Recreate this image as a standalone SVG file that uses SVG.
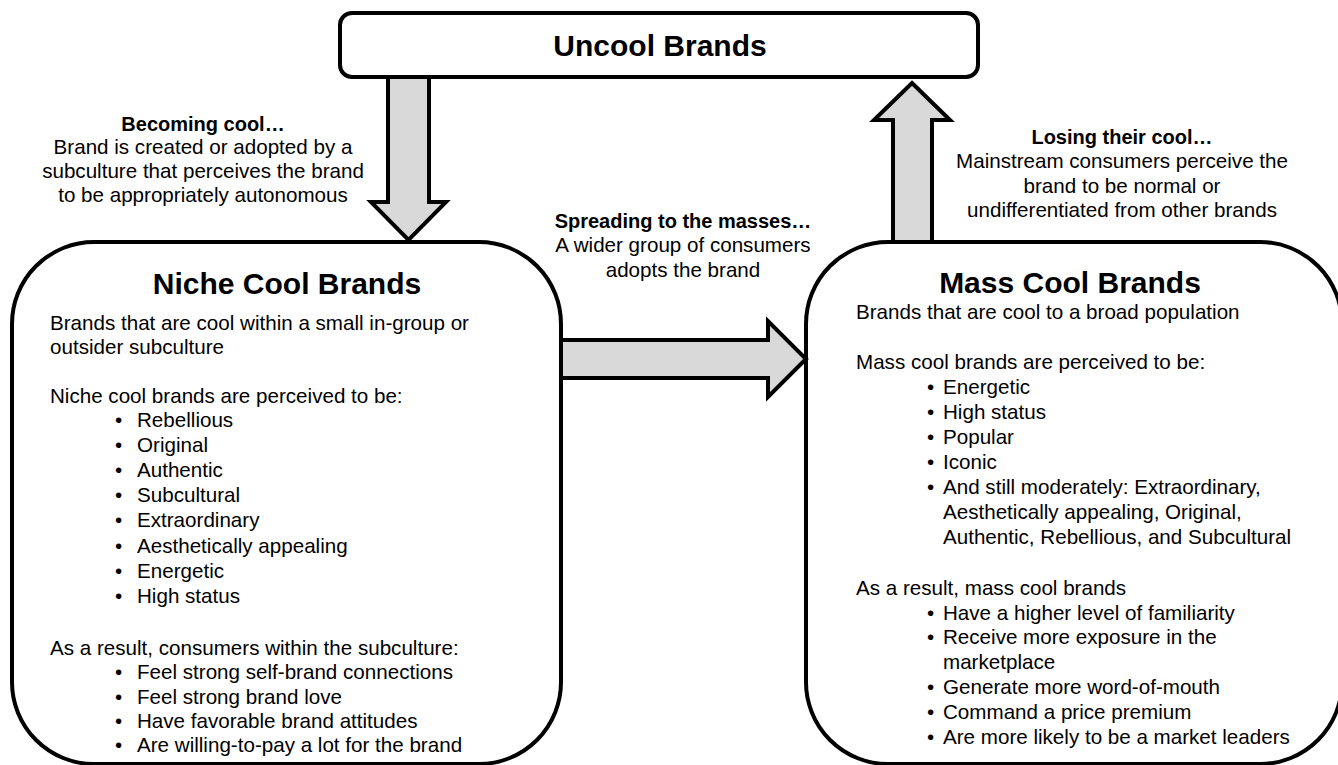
<svg xmlns="http://www.w3.org/2000/svg" width="1338" height="765" viewBox="0 0 1338 765">
<style>
text{font-family:"Liberation Sans",Arial,Helvetica,sans-serif;fill:#000}
.t{font-size:20.6px}
.b{font-size:20px;font-weight:bold}
.h{font-size:30px;font-weight:bold}
.c{text-anchor:middle}
.box{fill:#fff;stroke:#000;stroke-width:4}
.arr{fill:#d9d9d9;stroke:#000;stroke-width:4;stroke-linejoin:miter}
</style>
<rect width="1338" height="765" fill="#fff"/>
<g id="node-uncool">
<rect class="box" x="340" y="13" width="638" height="64" rx="12"/>
<text class="h c" x="660" y="56">Uncool Brands</text>
</g>
<g id="node-niche">
<rect class="box" x="12" y="242" width="549" height="522" rx="82"/>
<text class="h c" x="287" y="294">Niche Cool Brands</text>
<text class="t" x="50" y="330">Brands that are cool within a small in-group or</text>
<text class="t" x="50" y="354">outsider subculture</text>
<text class="t" x="50" y="403">Niche cool brands are perceived to be:</text>
<g class="t">
<text x="115" y="427">•</text><text x="137" y="427">Rebellious</text>
<text x="115" y="452">•</text><text x="137" y="452">Original</text>
<text x="115" y="477">•</text><text x="137" y="477">Authentic</text>
<text x="115" y="502">•</text><text x="137" y="502">Subcultural</text>
<text x="115" y="527">•</text><text x="137" y="527">Extraordinary</text>
<text x="115" y="553">•</text><text x="137" y="553">Aesthetically appealing</text>
<text x="115" y="578">•</text><text x="137" y="578">Energetic</text>
<text x="115" y="603">•</text><text x="137" y="603">High status</text>
</g>
<text class="t" x="50" y="655">As a result, consumers within the subculture:</text>
<g class="t">
<text x="115" y="679">•</text><text x="137" y="679">Feel strong self-brand connections</text>
<text x="115" y="704">•</text><text x="137" y="704">Feel strong brand love</text>
<text x="115" y="728">•</text><text x="137" y="728">Have favorable brand attitudes</text>
<text x="115" y="752">•</text><text x="137" y="752">Are willing-to-pay a lot for the brand</text>
</g>
</g>
<g id="node-mass">
<rect class="box" x="806" y="242" width="536" height="522" rx="82"/>
<text class="h c" x="1070" y="293">Mass Cool Brands</text>
<text class="t" x="856" y="319">Brands that are cool to a broad population</text>
<text class="t" x="856" y="369">Mass cool brands are perceived to be:</text>
<g class="t">
<text x="927" y="394">•</text><text x="943" y="394">Energetic</text>
<text x="927" y="419">•</text><text x="943" y="419">High status</text>
<text x="927" y="444">•</text><text x="943" y="444">Popular</text>
<text x="927" y="469">•</text><text x="943" y="469">Iconic</text>
<text x="927" y="494">•</text><text x="943" y="494">And still moderately: Extraordinary,</text>
<text x="943" y="519">Aesthetically appealing, Original,</text>
<text x="943" y="544">Authentic, Rebellious, and Subcultural</text>
</g>
<text class="t" x="856" y="595">As a result, mass cool brands</text>
<g class="t">
<text x="927" y="620">•</text><text x="943" y="620">Have a higher level of familiarity</text>
<text x="927" y="644">•</text><text x="943" y="644">Receive more exposure in the</text>
<text x="943" y="669">marketplace</text>
<text x="927" y="694">•</text><text x="943" y="694">Generate more word-of-mouth</text>
<text x="927" y="719">•</text><text x="943" y="719">Command a price premium</text>
<text x="927" y="744">•</text><text x="943" y="744">Are more likely to be a market leaders</text>
</g>
</g>
<g id="connectors">
<g id="edge-becoming">
<polygon class="arr" points="388,77 429,77 429,202 446,202 408.5,240 371,202 388,202"/>
<text class="b c" x="203" y="131">Becoming cool…</text>
<text class="t c" x="203" y="154">Brand is created or adopted by a</text>
<text class="t c" x="203" y="178">subculture that perceives the brand</text>
<text class="t c" x="203" y="202">to be appropriately autonomous</text>
</g>
<g id="edge-spreading">
<polygon class="arr" points="561,340 768,340 768,321 806,359 768,397 768,378 561,378"/>
<text class="b c" x="683" y="228">Spreading to the masses…</text>
<text class="t c" x="683" y="252">A wider group of consumers</text>
<text class="t c" x="683" y="277">adopts the brand</text>
</g>
<g id="edge-losing">
<polygon class="arr" points="912,83 950,120 932,120 932,242 893,242 893,120 874,120"/>
<text class="b c" x="1122" y="144">Losing their cool…</text>
<text class="t c" x="1122" y="168">Mainstream consumers perceive the</text>
<text class="t c" x="1122" y="193">brand to be normal or</text>
<text class="t c" x="1122" y="217">undifferentiated from other brands</text>
</g>
</g>
</svg>
